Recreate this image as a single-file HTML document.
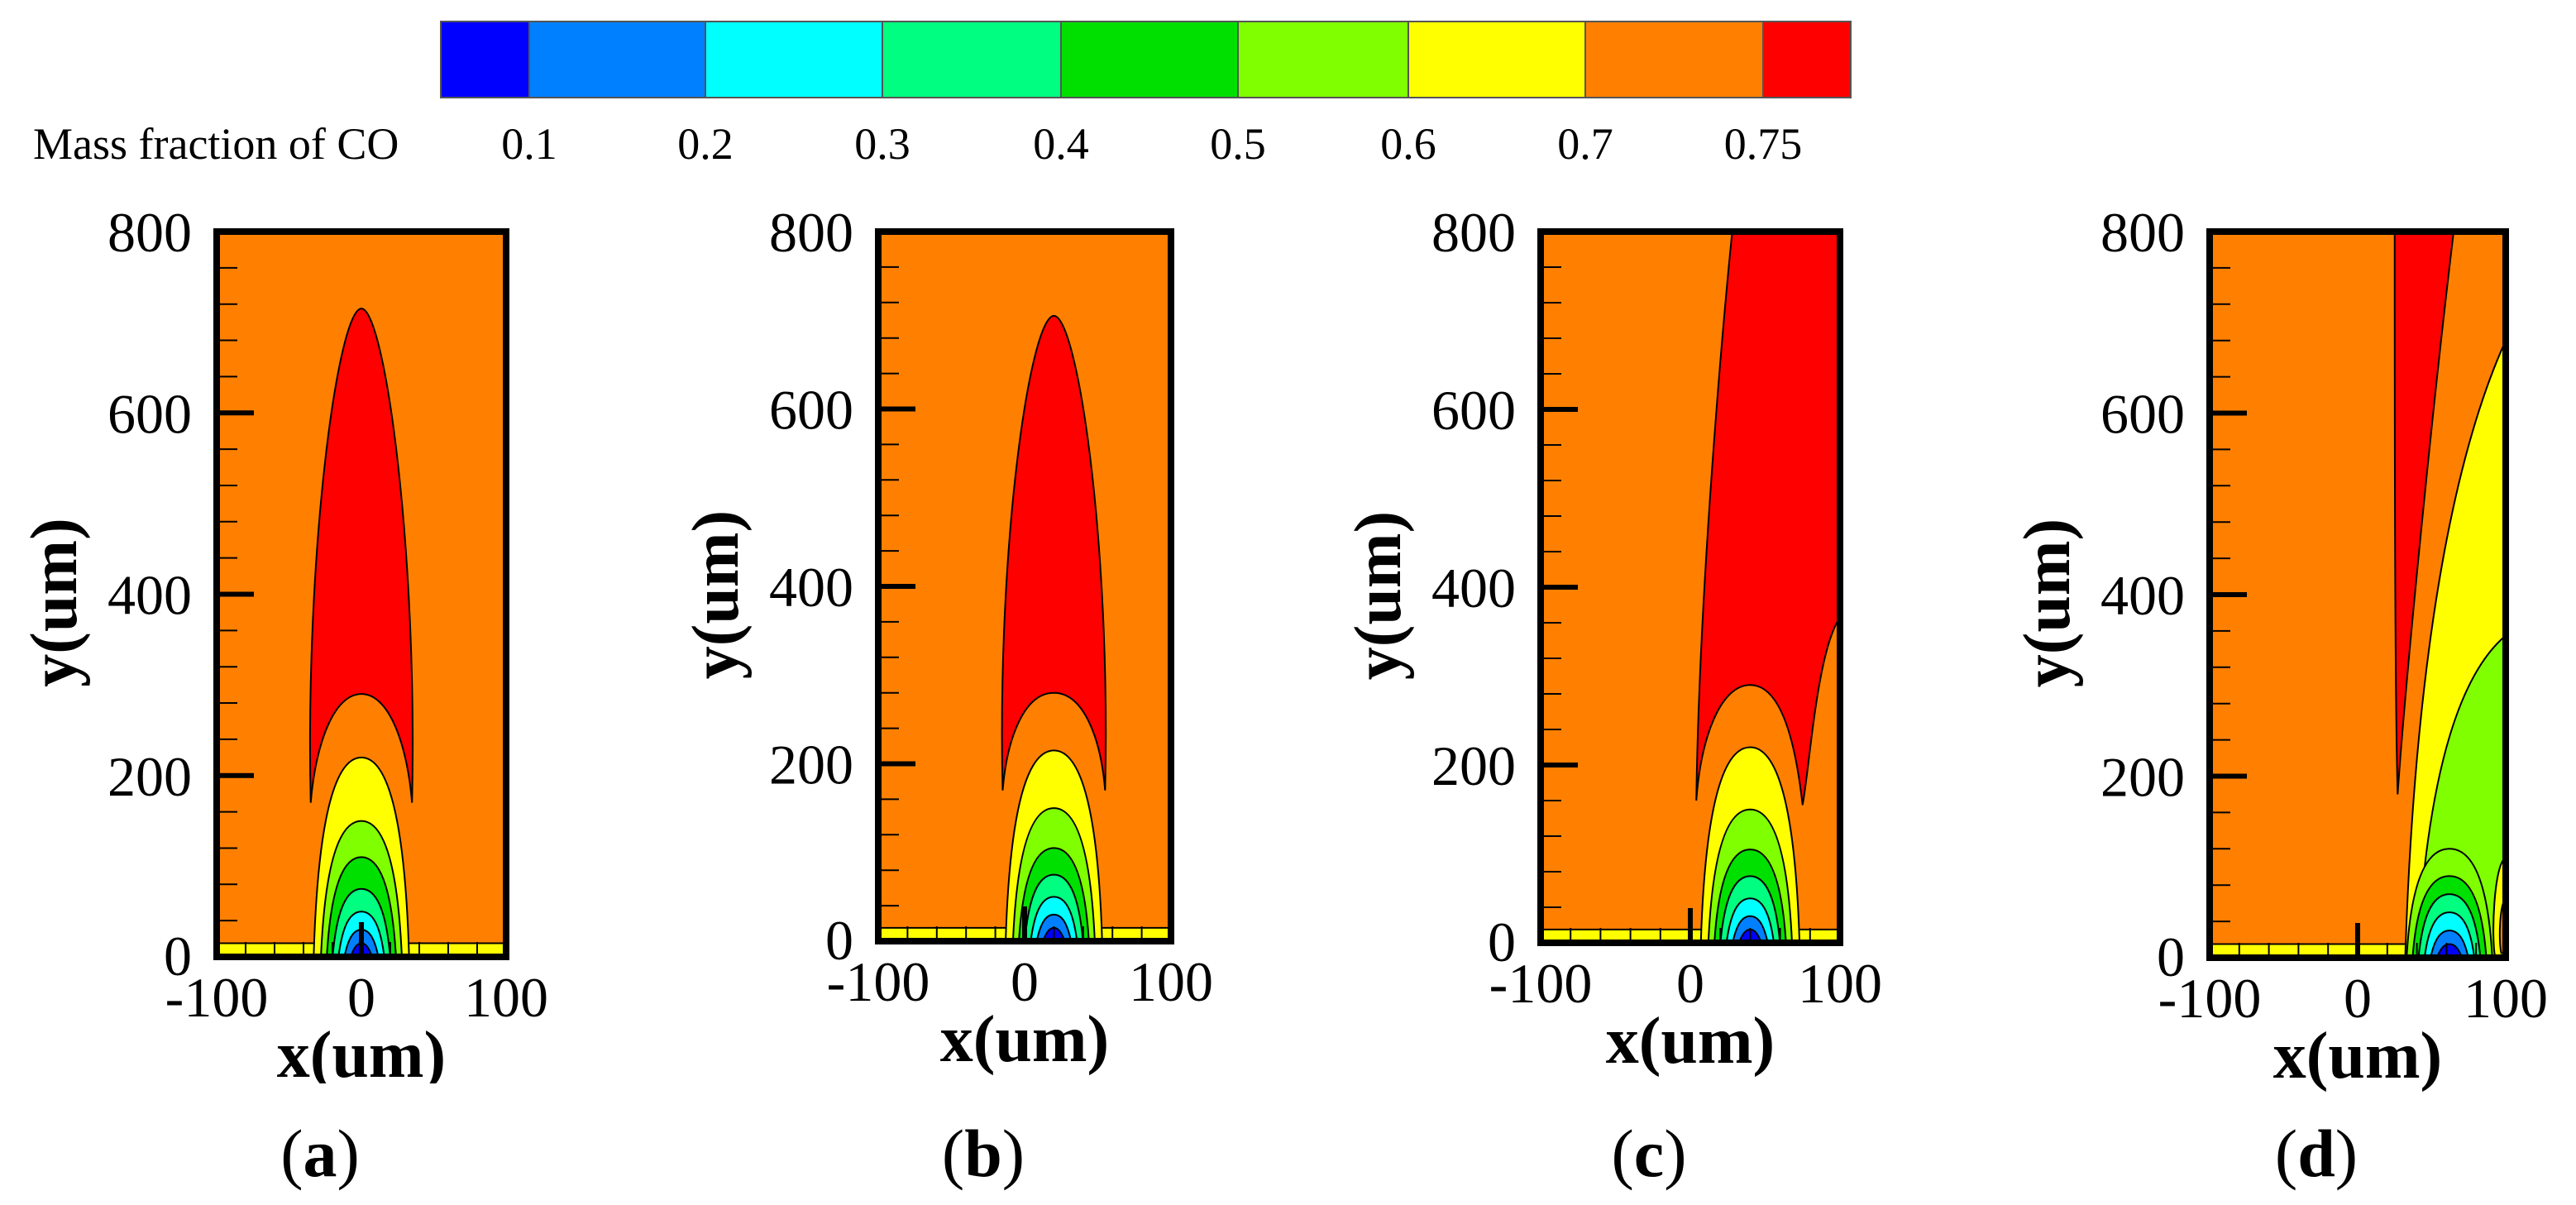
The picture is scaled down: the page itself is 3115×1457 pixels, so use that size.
<!DOCTYPE html>
<html><head><meta charset="utf-8"><style>
body{margin:0;background:#fff}
svg{display:block}
text{font-family:"Liberation Serif",serif}
</style></head><body>
<svg id="fig" width="3115" height="1457" viewBox="0 0 3115 1457" xmlns="http://www.w3.org/2000/svg"></svg>
<script>
const NS="http://www.w3.org/2000/svg";
const svg=document.getElementById('fig');
// colorbar data
const levelColors=["#0000ff","#0080ff","#00ffff","#00ff80","#00e000","#80ff00","#ffff00","#ff8000","#ff0000"];
const levelLabels=["0.1","0.2","0.3","0.4","0.5","0.6","0.7","0.75"];
const cbEdges=[533,640,853,1067,1283,1497,1703,1917,2132,2238];
// panel geometry
const panelLetters=["a","b","c","d"];
const panelX0=[262,1062,1863,2672];
const panelX1=[612,1416,2225,3030];
const panelY0=[1157,1138,1140,1158];
const yTicks=[0,200,400,600,800];
const xTicks=[-100,0,100];
// arch data: centers, peaks (levels 0.7,0.6,0.5,0.4,0.3,0.2,0.1), half widths
const archCenters=[0,20,40,62];
const archPeaks=[[220,150,110,75,50,30,15],[215,150,105,75,50,30,15],[220,150,105,75,50,30,15],[0,120,90,70,50,30,15]];
const archHalfW=[[30,25,21,17,13,9,5],[30,25,21,17,13,9,5],[30,25,21,17,13,9,5],[0,26,22,18,14,10,6]];
// red region: top, cusp y, cusp half-width, inner arch top
const redTop=[715,705,800,800];
const redCuspY=[170,170,160,180];
const redHalfW=[35,35,36,0];
const redInner=[290,280,290,0];

function el(tag,attrs,parent){const e=document.createElementNS(NS,tag);for(const k in attrs)e.setAttribute(k,attrs[k]);(parent||svg).appendChild(e);return e;}

const cb=el('g',{});


levelColors.forEach((c,i)=>{
  const r=el('rect',{x:cbEdges[i],y:26,width:cbEdges[i+1]-cbEdges[i],height:92,fill:c,stroke:'#555','stroke-width':2},cb);
  
  
});
levelLabels.forEach((l,i)=>{
  const t=el('text',{x:cbEdges[i+1],y:192,'font-size':54,'text-anchor':'middle'},cb);t.textContent=l;
  
  
});
const cbt=el('text',{x:40,y:192,'font-size':54},cb);cbt.textContent="Mass fraction of CO";



panelLetters.forEach((L,p)=>{
  const x0=panelX0[p],x1=panelX1[p],yb=panelY0[p],yt=280;
  const X=v=>x0+(v+100)/200*(x1-x0);
  const Y=v=>yb-v/800*(yb-yt);
  const g=el('g',{});
  
  
  const clipId='clip'+p;
  const cp=el('clipPath',{id:clipId},g);el('rect',{x:x0,y:yt,width:x1-x0,height:yb-yt},cp);
  const pl=el('g',{'clip-path':'url(#'+clipId+')'},g);
  el('rect',{x:x0,y:yt,width:x1-x0,height:yb-yt,fill:'#ff8000'},pl);
  el('path',{d:`M${X(-100)},${Y(0)} L${X(-100)},${Y(15)} L${X(100)},${Y(15)} L${X(100)},${Y(0)}Z`,fill:'#ffff00',stroke:'#000','stroke-width':2},pl);
  const c=archCenters[p];
  let rd;
  if(p<2){
    const h=redHalfW[p];
    rd=`M${X(c-h)},${Y(redCuspY[p])} C${X(c-h-4)},${Y(450)} ${X(c-16)},${Y(redTop[p])} ${X(c)},${Y(redTop[p])} C${X(c+16)},${Y(redTop[p])} ${X(c+h+4)},${Y(450)} ${X(c+h)},${Y(redCuspY[p])} C${X(c+h-3)},${Y(230)} ${X(c+20)},${Y(redInner[p])} ${X(c)},${Y(redInner[p])} C${X(c-20)},${Y(redInner[p])} ${X(c-h+3)},${Y(230)} ${X(c-h)},${Y(redCuspY[p])}Z`;
  }else if(p==2){
    rd=`M${X(4)},${Y(redCuspY[p])} C${X(6)},${Y(400)} ${X(22)},${Y(700)} ${X(28)},${Y(redTop[p])} L${X(102)},${Y(800)} L${X(102)},${Y(370)} C${X(85)},${Y(340)} ${X(80)},${Y(200)} ${X(75)},${Y(155)} C${X(70)},${Y(230)} ${X(60)},${Y(redInner[p])} ${X(c)},${Y(redInner[p])} C${X(20)},${Y(redInner[p])} ${X(7)},${Y(230)} ${X(4)},${Y(redCuspY[p])}Z`;
  }else{
    el('path',{d:`M${X(32)},${Y(-5)} C${X(36)},${Y(200)} ${X(50)},${Y(500)} ${X(100)},${Y(680)} L${X(102)},${Y(-5)}Z`,fill:'#ffff00',stroke:'#000','stroke-width':2},pl);
    el('path',{d:`M${X(40)},${Y(-5)} C${X(45)},${Y(150)} ${X(60)},${Y(300)} ${X(100)},${Y(355)} L${X(102)},${Y(-5)}Z`,fill:'#80ff00',stroke:'#000','stroke-width':2},pl);
    rd=`M${X(27)},${Y(redCuspY[p])} C${X(25)},${Y(300)} ${X(25)},${Y(600)} ${X(25)},${Y(802)} L${X(65)},${Y(802)} C${X(50)},${Y(600)} ${X(32)},${Y(300)} ${X(27)},${Y(redCuspY[p])}Z`;
    el('path',{d:`M${X(100)},${Y(110)} C${X(92)},${Y(105)} ${X(90)},${Y(20)} ${X(93)},${Y(0)} L${X(102)},${Y(0)}Z`,fill:'#ffff00',stroke:'#000','stroke-width':2},pl);
    el('path',{d:`M${X(100)},${Y(65)} C${X(96)},${Y(60)} ${X(95)},${Y(20)} ${X(97)},${Y(5)} L${X(102)},${Y(5)}Z`,fill:'#ff8000',stroke:'#000','stroke-width':2},pl);
  }
  const red=el('path',{d:rd,fill:'#ff0000',stroke:'#000','stroke-width':2},pl);
  
  
  archPeaks[p].forEach((pk,i)=>{
    if(pk<=0)return;
    const h=archHalfW[p][i];
    const a=el('path',{d:`M${X(c-h-3)},${Y(-2)} C${X(c-h)},${Y(pk*0.75)} ${X(c-h*0.55)},${Y(pk)} ${X(c)},${Y(pk)} C${X(c+h*0.55)},${Y(pk)} ${X(c+h)},${Y(pk*0.75)} ${X(c+h+3)},${Y(-2)}Z`,fill:levelColors[6-i],stroke:'#000','stroke-width':2},pl);
    
    
  });
  for(let v=0;v<=800;v+=40){
    const major=v%200===0;
    el('line',{x1:x0,x2:x0+(major?45:25),y1:Y(v),y2:Y(v),stroke:'#000','stroke-width':major?6:2},g);
  }
  for(let v=-100;v<=100;v+=20){
    el('line',{x1:X(v),x2:X(v),y1:yb,y2:yb-(v===0?42:18),stroke:'#000','stroke-width':v===0?6:2},g);
  }
  el('rect',{x:x0,y:yt,width:x1-x0,height:yb-yt,fill:'none',stroke:'#000','stroke-width':8},g);
  yTicks.forEach(v=>{
    const t=el('text',{x:x0-30,y:Y(v)+(v===0?22:24),'font-size':68,'text-anchor':'end'},g);t.textContent=v;
    
    
  });
  xTicks.forEach(v=>{
    const t=el('text',{x:X(v),y:yb+72,'font-size':68,'text-anchor':'middle'},g);t.textContent=v;
    
    
  });
  const xt=el('text',{x:X(0),y:yb+145,'font-size':80,'font-weight':'bold','text-anchor':'middle'},g);xt.textContent="x(um)";
  
  
  const ycx=x0-170,ycy=(yt+yb)/2+10;
  const yt2=el('text',{x:ycx,y:ycy,'font-size':80,'font-weight':'bold','text-anchor':'middle',transform:`rotate(-90 ${ycx} ${ycy})`},g);yt2.textContent="y(um)";
  
  
  const lab=el('text',{x:X(0)-50,y:1422,'font-size':82,'text-anchor':'middle'},g);
  lab.innerHTML='(<tspan font-weight="bold">'+L+'</tspan>)';
  
  
});
// white mask clipping bottom of panel (a) x-title as in reference
const m=el('rect',{x:300,y:1310,width:300,height:40,fill:'#fff'});


</script>
</body></html>
